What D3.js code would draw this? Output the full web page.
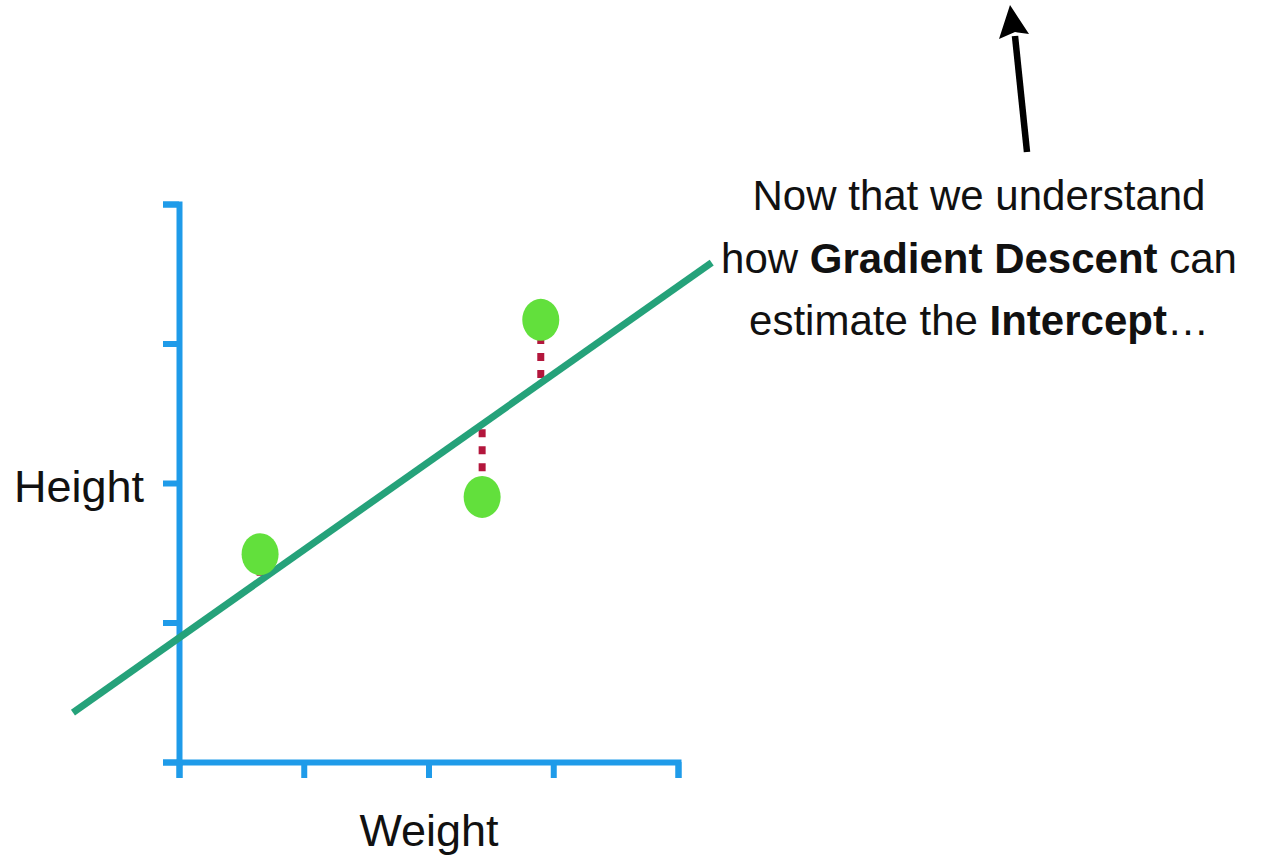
<!DOCTYPE html>
<html>
<head>
<meta charset="utf-8">
<script src="https://cdn.jsdelivr.net/npm/d3@7"></script>
<style>
  html, body { margin: 0; padding: 0; background: #ffffff; }
  svg { display: block; }
  text { font-family: "Liberation Sans", Arial, Helvetica, sans-serif; fill: #111; }
</style>
</head>
<body>
<svg id="chart" width="1279" height="859"></svg>
<script>
// Observations: weight vs height
const weights = [0.65, 2.43, 2.90];
const heights = [1.49, 1.90, 3.17];

// Fitted line: height = intercept + slope * weight
const intercept = 0.89;
const slope = 0.63;
const lineExtent = [-0.85, 4.27];

// Axis ticks (unlabelled)
const xTicks = [0, 1, 2, 3, 4];
const yTicks = [0, 1, 2, 3, 4];

// Annotation text, one entry per line; bold parts flagged
const noteLines = [
  [{ t: "Now that we understand", b: false }],
  [{ t: "how ", b: false }, { t: "Gradient Descent", b: true }, { t: " can", b: false }],
  [{ t: "estimate the ", b: false }, { t: "Intercept", b: true }, { t: "\u2026", b: false }]
];

const svg = d3.select("#chart");

const x = d3.scaleLinear().domain([0, 4]).range([179, 678]);
const y = d3.scaleLinear().domain([0, 4]).range([762, 204]);

const axisColor = "#1f9be9";

// Axes
const gx = svg.append("g").attr("transform", `translate(0,${y(0)})`)
  .call(d3.axisBottom(x).tickValues(xTicks).tickSize(16).tickFormat(""));
const gy = svg.append("g").attr("transform", `translate(${x(0)},0)`)
  .call(d3.axisLeft(y).tickValues(yTicks).tickSize(16).tickFormat(""));
[gx, gy].forEach(g => {
  g.selectAll("path.domain, line").attr("stroke", axisColor).attr("stroke-width", 6)
    .attr("stroke-linecap", "butt");
  g.select("path.domain").attr("fill", "none");
});

// Axis titles
svg.append("text").attr("x", 429).attr("y", 846).attr("text-anchor", "middle")
  .style("font-size", "45px").text("Weight");
svg.append("text").attr("x", 79).attr("y", 502).attr("text-anchor", "middle")
  .style("font-size", "45px").text("Height");

// Residuals from fitted line to each point
const fit = w => intercept + slope * w;
const pts = weights.map((w, i) => ({ w, h: heights[i] }));

svg.append("g").selectAll("line").data(pts).join("line")
  .attr("x1", d => x(d.w)).attr("x2", d => x(d.w))
  .attr("y1", d => y(fit(d.w))).attr("y2", d => y(d.h))
  .attr("stroke", "#b3163c").attr("stroke-width", 7)
  .attr("stroke-dasharray", "8,9").attr("stroke-dashoffset", 12);

// Fitted line
svg.append("line")
  .attr("x1", x(lineExtent[0])).attr("y1", y(fit(lineExtent[0])))
  .attr("x2", x(lineExtent[1])).attr("y2", y(fit(lineExtent[1])))
  .attr("stroke", "#25a27a").attr("stroke-width", 7);

// Data points
svg.append("g").selectAll("ellipse").data(pts).join("ellipse")
  .attr("cx", d => x(d.w)).attr("cy", d => y(d.h))
  .attr("rx", 18.5).attr("ry", 21)
  .attr("fill", "#62e03c");

// Annotation text
const note = svg.append("text").attr("text-anchor", "middle").style("font-size", "42px");
noteLines.forEach((parts, i) => {
  const line = note.append("tspan").attr("x", 979).attr("y", 210 + i * 62.5);
  parts.forEach(p => {
    line.append("tspan").style("font-weight", p.b ? "bold" : "normal").text(p.t);
  });
});

// Arrow pointing upward
const arrowShaft = [[1027, 152], [1015, 36]];
const arrowHead = [[1010, 5], [999, 39], [1015, 32], [1029, 34]];
svg.append("path")
  .attr("d", d3.line()(arrowShaft))
  .attr("stroke", "#000").attr("stroke-width", 6.5).attr("fill", "none");
svg.append("path")
  .attr("d", d3.line()(arrowHead) + "Z")
  .attr("fill", "#000");
</script>
</body>
</html>
